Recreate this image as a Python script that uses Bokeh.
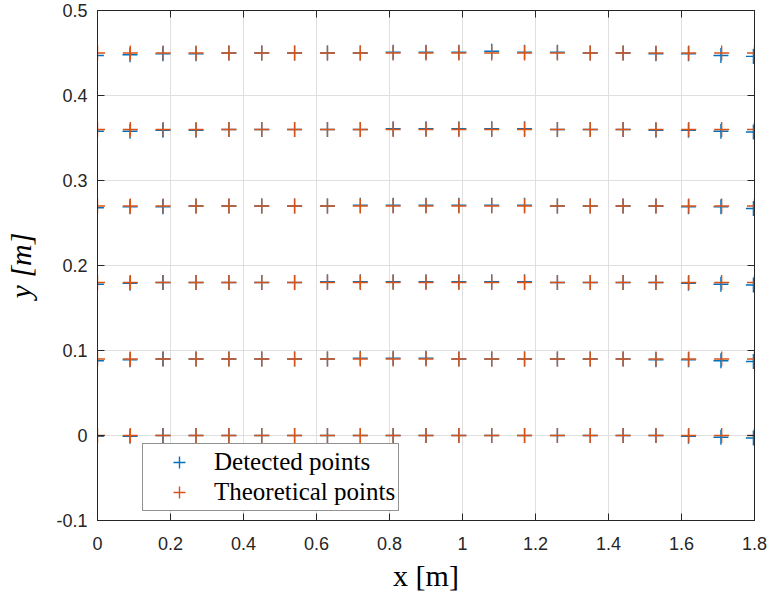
from bokeh.plotting import figure
from bokeh.models import (FixedTicker, CustomJSTickFormatter, LinearAxis, Legend,
                          LegendItem, Range1d)
from bokeh.embed import file_html
from bokeh.resources import INLINE

# ---------------- data ----------------
x_theo = [0.0, 0.09, 0.18, 0.27, 0.36, 0.45, 0.54, 0.63, 0.72, 0.81, 0.90,
          0.99, 1.08, 1.17, 1.26, 1.35, 1.44, 1.53, 1.62, 1.71, 1.80]
y_theo_rows = [0.0, 0.09, 0.18, 0.27, 0.36, 0.45]

x_det = [-0.003, 0.089, 0.179, 0.270, 0.360, 0.450, 0.540, 0.630, 0.720, 0.810, 0.900,
         0.990, 1.080, 1.170, 1.260, 1.350, 1.440, 1.530, 1.619, 1.708, 1.797]
y_det_row0 = [-0.001, -0.001, 0.000, 0.000, 0.000, 0.000, 0.000, 0.000, 0.000, 0.000, 0.000,
              0.000, 0.000, 0.000, 0.000, 0.000, 0.000, 0.000, -0.001, -0.002, -0.003]
y_det_row1 = [0.088, 0.089, 0.090, 0.090, 0.090, 0.090, 0.090, 0.090, 0.091, 0.091, 0.091,
              0.090, 0.090, 0.090, 0.090, 0.090, 0.090, 0.089, 0.089, 0.088, 0.087]
y_det_row2 = [0.178, 0.179, 0.180, 0.180, 0.180, 0.180, 0.180, 0.181, 0.181, 0.181, 0.181,
              0.181, 0.181, 0.181, 0.180, 0.180, 0.180, 0.180, 0.179, 0.178, 0.177]
y_det_row3 = [0.268, 0.269, 0.269, 0.270, 0.270, 0.270, 0.270, 0.270, 0.271, 0.271, 0.271,
              0.271, 0.271, 0.271, 0.270, 0.270, 0.270, 0.270, 0.269, 0.269, 0.267]
y_det_row4 = [0.358, 0.358, 0.359, 0.359, 0.360, 0.360, 0.360, 0.360, 0.360, 0.361, 0.361,
              0.361, 0.361, 0.361, 0.360, 0.360, 0.360, 0.359, 0.359, 0.358, 0.357]
y_det_row5 = [0.447, 0.448, 0.449, 0.449, 0.450, 0.450, 0.450, 0.450, 0.450, 0.451, 0.451,
              0.451, 0.452, 0.451, 0.451, 0.450, 0.450, 0.449, 0.449, 0.447, 0.446]
y_det_rows = [y_det_row0, y_det_row1, y_det_row2, y_det_row3, y_det_row4, y_det_row5]

x_ticks = [0, 0.2, 0.4, 0.6, 0.8, 1.0, 1.2, 1.4, 1.6, 1.8]
y_ticks = [-0.1, 0, 0.1, 0.2, 0.3, 0.4, 0.5]

x_label = "x [m]"
y_label = "y [m]"
legend_labels = ["Detected points", "Theoretical points"]

BLUE = "#0072BD"
ORANGE = "#D95319"
AXC = "#262626"

# ---------------- figure ----------------
p = figure(frame_width=657, frame_height=510,
           x_range=Range1d(0, 1.8), y_range=Range1d(-0.1, 0.5),
           output_backend="svg", toolbar_location=None,
           min_border_left=97, min_border_right=14, min_border_top=10, min_border_bottom=77)
p.background_fill_color = "white"
p.border_fill_color = "white"
p.outline_line_color = AXC
p.outline_line_width = 1

# extra axes on top and right (ticks only)
p.add_layout(LinearAxis(), "above")
p.add_layout(LinearAxis(), "right")

fmt = CustomJSTickFormatter(code="return String(Math.round(tick*10)/10);")
blank = CustomJSTickFormatter(code="return '';")

for ax in p.xaxis:
    ax.ticker = FixedTicker(ticks=x_ticks)
for ax in p.yaxis:
    ax.ticker = FixedTicker(ticks=y_ticks)

for ax in list(p.xaxis) + list(p.yaxis):
    ax.axis_line_color = AXC
    ax.axis_line_width = 1
    ax.major_tick_line_color = AXC
    ax.major_tick_line_width = 1
    ax.major_tick_in = 7
    ax.major_tick_out = 0
    ax.minor_tick_line_color = None
    ax.major_label_text_font = "Liberation Sans"
    ax.major_label_text_font_size = "18px"
    ax.major_label_text_color = AXC

bx = p.below[0]
bx.formatter = fmt
bx.major_label_standoff = 16
bx.axis_label = x_label
bx.axis_label_text_font = "Liberation Serif"
bx.axis_label_text_font_style = "normal"
bx.axis_label_text_font_size = "30px"
bx.axis_label_text_color = "black"
bx.axis_label_standoff = 6

ly = p.left[0]
ly.formatter = fmt
ly.major_label_standoff = 10
ly.axis_label = y_label
ly.axis_label_text_font = "Liberation Serif"
ly.axis_label_text_font_style = "italic"
ly.axis_label_text_font_size = "30px"
ly.axis_label_text_color = "black"
ly.axis_label_standoff = 16

for ax in (p.above[0], p.right[0]):
    ax.formatter = blank
    ax.major_label_text_font_size = "0px"
    ax.major_label_standoff = 0

p.xgrid.ticker = FixedTicker(ticks=x_ticks)
p.ygrid.ticker = FixedTicker(ticks=y_ticks)
p.xgrid.grid_line_color = "#dfdfdf"
p.ygrid.grid_line_color = "#dfdfdf"
p.xgrid.grid_line_width = 1
p.ygrid.grid_line_width = 1

# ---------------- markers ----------------
det_xs, det_ys, th_xs, th_ys = [], [], [], []
for yr, drow in zip(y_theo_rows, y_det_rows):
    for xt, xd, yd in zip(x_theo, x_det, drow):
        det_xs.append(xd)
        det_ys.append(yd)
        th_xs.append(xt)
        th_ys.append(yr)

r_det = p.scatter(det_xs, det_ys, marker="cross", size=15, line_color=BLUE, line_width=1.4)
r_th = p.scatter(th_xs, th_ys, marker="cross", size=15, line_color=ORANGE, line_width=1.4)

legend = Legend(items=[LegendItem(label=legend_labels[0], renderers=[r_det]),
                       LegendItem(label=legend_labels[1], renderers=[r_th])],
                location=(45, 9))
legend.label_text_font = "Liberation Serif"
legend.label_text_font_size = "25px"
legend.label_text_color = "black"
legend.border_line_color = AXC
legend.border_line_width = 1
legend.background_fill_color = "white"
legend.background_fill_alpha = 1
legend.padding = 3
legend.margin = 0
legend.spacing = 0
legend.glyph_width = 66
legend.glyph_height = 30
legend.label_height = 30
legend.label_standoff = 2
p.add_layout(legend)

open("out.html", "w").write(file_html(p, INLINE))
